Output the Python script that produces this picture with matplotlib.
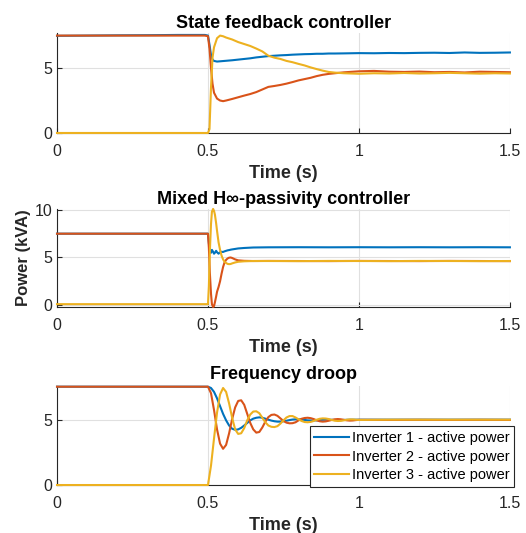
import matplotlib
matplotlib.use("Agg")
import matplotlib.pyplot as plt

plt.rcParams['font.family'] = ['Liberation Sans', 'DejaVu Sans']

# ---- data ------------------------------------------------------------------
series_names = ["Inverter 1 - active power",
                "Inverter 2 - active power",
                "Inverter 3 - active power"]
titles = ["State feedback controller",
          "Mixed H\u221e-passivity controller",
          "Frequency droop"]
x_ticks = [0, 0.5, 1, 1.5]
x_tick_labels = ["0", "0.5", "1", "1.5"]

# state feedback controller
t_sf = [0, 0.1, 0.2, 0.3, 0.4, 0.49, 0.5, 0.505, 0.51, 0.515, 0.52, 0.53, 0.54,
        0.55, 0.56, 0.58, 0.6, 0.62, 0.64, 0.66, 0.68, 0.7, 0.72, 0.74, 0.76,
        0.78, 0.8, 0.82, 0.84, 0.86, 0.88, 0.9, 0.92, 0.95, 1.0, 1.05, 1.1,
        1.15, 1.2, 1.25, 1.3, 1.35, 1.4, 1.45, 1.5]
p1_sf = [7.48, 7.5, 7.52, 7.53, 7.55, 7.55, 7.5, 6.8, 6.0, 5.65, 5.55, 5.5, 5.52,
         5.54, 5.56, 5.6, 5.65, 5.7, 5.75, 5.82, 5.87, 5.92, 5.95, 5.98, 6.0,
         6.03, 6.05, 6.07, 6.08, 6.1, 6.1, 6.12, 6.12, 6.13, 6.15, 6.14, 6.16,
         6.15, 6.17, 6.18, 6.16, 6.2, 6.17, 6.18, 6.2]
p2_sf = [7.5, 7.5, 7.5, 7.5, 7.5, 7.5, 7.45, 6.5, 5.0, 3.8, 3.1, 2.65, 2.5,
         2.45, 2.5, 2.62, 2.75, 2.88, 3.0, 3.15, 3.35, 3.55, 3.62, 3.7, 3.8,
         3.92, 4.05, 4.15, 4.25, 4.38, 4.48, 4.55, 4.6, 4.67, 4.75, 4.78, 4.72,
         4.7, 4.73, 4.68, 4.7, 4.66, 4.72, 4.7, 4.68]
p3_sf = [0, 0, 0, 0, 0, 0, 0, 0.3, 3.5, 5.8, 6.6, 7.3, 7.5,
         7.45, 7.35, 7.2, 7.0, 6.85, 6.7, 6.5, 6.28, 5.95, 5.8, 5.7, 5.55,
         5.45, 5.32, 5.2, 5.05, 4.92, 4.8, 4.7, 4.65, 4.6, 4.56, 4.6, 4.58,
         4.62, 4.58, 4.6, 4.63, 4.6, 4.57, 4.6, 4.58]

# mixed H-infinity / passivity controller
t_hp = [0, 0.25, 0.5, 0.503, 0.506, 0.51, 0.513, 0.517, 0.52, 0.523, 0.527,
        0.53, 0.535, 0.54, 0.545, 0.55, 0.555, 0.56, 0.565, 0.57, 0.575, 0.58,
        0.59, 0.6, 0.62, 0.65, 0.7, 0.8, 0.9, 1.0, 1.1, 1.2, 1.3, 1.4, 1.5]
p1_hp = [7.5, 7.5, 7.5, 6.5, 5.6, 5.5, 5.8, 5.6, 5.4, 5.5, 5.7,
         5.55, 5.4, 5.55, 5.6, 5.58, 5.65, 5.7, 5.75, 5.78, 5.82, 5.85,
         5.9, 5.95, 6.0, 6.05, 6.07, 6.08, 6.07, 6.08, 6.07, 6.08, 6.07, 6.08, 6.07]
p2_hp = [7.5, 7.5, 7.5, 6.0, 3.5, 1.2, 0.1, -0.2, -0.1, 0.3, 0.9,
         1.4, 1.9, 2.5, 3.3, 4.0, 4.5, 4.75, 4.9, 4.98, 5.0, 4.95,
         4.8, 4.7, 4.65, 4.63, 4.64, 4.63, 4.62, 4.64, 4.63, 4.62, 4.64, 4.63, 4.62]
p3_hp = [0.1, 0.1, 0.1, 2.0, 5.5, 8.5, 9.8, 10.1, 9.9, 9.5, 8.6,
         7.8, 6.6, 5.8, 5.2, 4.8, 4.55, 4.42, 4.33, 4.3, 4.32, 4.38,
         4.48, 4.55, 4.6, 4.63, 4.63, 4.62, 4.64, 4.63, 4.62, 4.64, 4.63, 4.62, 4.63]

# frequency droop
t_fd = [0, 0.25, 0.5,
        0.51, 0.52, 0.53, 0.54, 0.55, 0.56, 0.57, 0.58, 0.59, 0.6,
        0.61, 0.62, 0.63, 0.64, 0.65, 0.66, 0.67, 0.68, 0.69, 0.7,
        0.71, 0.72, 0.73, 0.74, 0.75, 0.76, 0.77, 0.78, 0.79, 0.8,
        0.81, 0.82, 0.83, 0.84, 0.85, 0.86, 0.87, 0.88, 0.89, 0.9,
        0.91, 0.92, 0.93, 0.94, 0.95, 0.96, 0.97, 0.98, 0.99, 1.0,
        1.1, 1.2, 1.3, 1.4, 1.5]
p1_fd = [7.6, 7.6, 7.6,
         7.5, 7.2, 6.7, 6.1, 5.5, 5.0, 4.6, 4.35, 4.27, 4.3,
         4.42, 4.6, 4.8, 5.0, 5.13, 5.2, 5.23, 5.2, 5.13, 5.05,
         4.98, 4.93, 4.9, 4.9, 4.93, 4.97, 5.02, 5.06, 5.08, 5.08,
         5.06, 5.03, 5.0, 4.99, 4.99, 5.0, 5.02, 5.04, 5.05, 5.05,
         5.04, 5.03, 5.02, 5.02, 5.03, 5.04, 5.05, 5.05, 5.05, 5.05,
         5.05, 5.05, 5.05, 5.05, 5.05]
p2_fd = [7.6, 7.6, 7.6,
         7.1, 5.8, 4.3, 3.2, 2.8, 3.1, 4.0, 5.1, 6.0, 6.5,
         6.55, 6.2, 5.5, 4.8, 4.3, 4.05, 4.1, 4.45, 4.9, 5.25,
         5.42, 5.45, 5.35, 5.15, 4.95, 4.82, 4.77, 4.78, 4.85, 5.0,
         5.12, 5.18, 5.2, 5.17, 5.1, 5.0, 4.93, 4.9, 4.92, 4.97,
         5.03, 5.08, 5.1, 5.08, 5.04, 5.0, 4.98, 4.99, 5.02, 5.04,
         5.03, 5.04, 5.03, 5.04, 5.03]
p3_fd = [0, 0, 0,
         1.5, 3.6, 5.6, 7.0, 7.5, 7.2, 6.3, 5.2, 4.3, 3.95,
         4.0, 4.4, 5.0, 5.45, 5.68, 5.7, 5.55, 5.2, 4.85, 4.6,
         4.5, 4.48, 4.55, 4.75, 5.0, 5.22, 5.33, 5.33, 5.22, 5.08,
         4.95, 4.87, 4.85, 4.88, 4.95, 5.05, 5.12, 5.15, 5.14, 5.1,
         5.03, 4.97, 4.95, 4.96, 5.0, 5.05, 5.07, 5.07, 5.05, 5.03,
         5.05, 5.05, 5.05, 5.05, 5.05]

colors = ["#0072BD", "#D95319", "#EDB120"]
dark = "#262626"

panels = [
    (t_sf, [p1_sf, p2_sf, p3_sf], (0, 7.7), [0, 5], 3.5),
    (t_hp, [p1_hp, p2_hp, p3_hp], (-0.2, 10.1), [0, 5, 10], 3.5),
    (t_fd, [p1_fd, p2_fd, p3_fd], (0, 7.65), [0, 5], 5),
]
# axes boxes in figure fraction: left, bottom, width, height
boxes = [
    [0.1084, 0.7505, 0.861, 0.1876],
    [0.1084, 0.4240, 0.861, 0.1840],
    [0.1084, 0.0900, 0.861, 0.1857],
]

fig = plt.figure(figsize=(5.26, 5.33), dpi=100)

axes = []
for k, (t, ys, ylim, yt, tpad) in enumerate(panels):
    ax = fig.add_axes(boxes[k])
    for y, c, name in zip(ys, colors, series_names):
        ax.plot(t, y, color=c, lw=1.5, label=name, clip_on=False, zorder=3)
    ax.set_xlim(0, 1.5)
    ax.set_ylim(*ylim)
    ax.set_xticks(x_ticks)
    ax.set_xticklabels(x_tick_labels)
    ax.set_yticks(yt)
    ax.grid(True, color="#e0e0e0", lw=0.8)
    ax.set_axisbelow(True)
    for s in ["top", "right"]:
        ax.spines[s].set_visible(False)
    for s in ["left", "bottom"]:
        ax.spines[s].set_color(dark)
        ax.spines[s].set_linewidth(0.8)
    ax.tick_params(axis="both", direction="in", length=3.5, width=0.8,
                   colors=dark, labelsize=11.5)
    ax.tick_params(axis="x", pad=8)
    ax.tick_params(axis="y", pad=3.5)
    ax.set_title(titles[k], fontsize=13, fontweight="bold", color="black", pad=tpad)
    ax.set_xlabel("Time (s)", fontsize=13, fontweight="bold", color=dark, labelpad=4)
    axes.append(ax)

axes[1].set_ylabel("Power (kVA)", fontsize=12, fontweight="bold", color=dark)
axes[1].yaxis.set_label_coords(-0.058, 0.5)

leg = axes[2].legend(loc="lower right", bbox_to_anchor=(1.009, -0.017),
                     borderaxespad=0, fontsize=10.5, fancybox=False,
                     framealpha=1, edgecolor=dark, handlelength=2.4,
                     handletextpad=0.2, borderpad=0.3, labelspacing=0.33)
leg.get_frame().set_linewidth(0.8)
leg.set_zorder(10)

fig.savefig("out.png", dpi=100)
